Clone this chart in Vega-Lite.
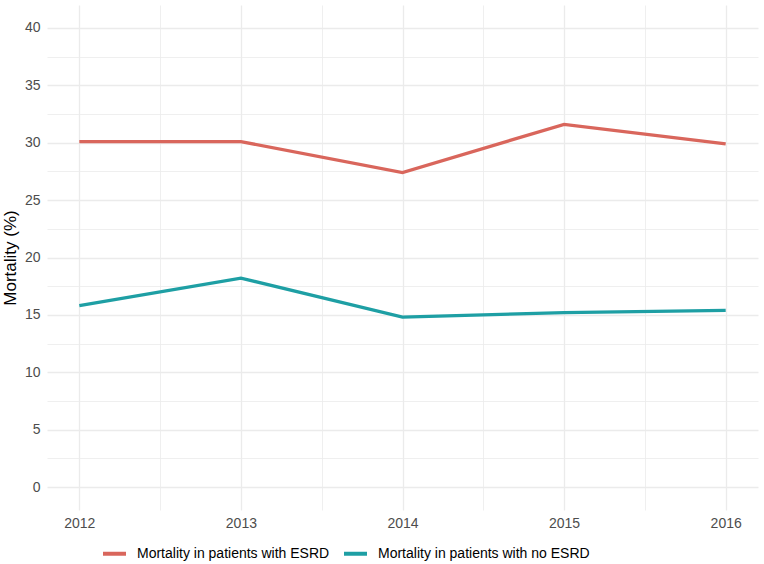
{
  "$schema": "https://vega.github.io/schema/vega-lite/v6.json",
  "width": 711,
  "height": 505,
  "autosize": {"type": "none"},
  "padding": {"left": 47, "top": 5, "right": 6, "bottom": 54},
  "background": "white",
  "config": {
    "view": {"stroke": null},
    "font": "Liberation Sans"
  },
  "data": {
    "values": [
      {"year": 2012, "series": "Mortality in patients with ESRD", "mortality": 30.1},
      {"year": 2013, "series": "Mortality in patients with ESRD", "mortality": 30.1},
      {"year": 2014, "series": "Mortality in patients with ESRD", "mortality": 27.4},
      {"year": 2015, "series": "Mortality in patients with ESRD", "mortality": 31.6},
      {"year": 2016, "series": "Mortality in patients with ESRD", "mortality": 29.9},
      {"year": 2012, "series": "Mortality in patients with no ESRD", "mortality": 15.8},
      {"year": 2013, "series": "Mortality in patients with no ESRD", "mortality": 18.2},
      {"year": 2014, "series": "Mortality in patients with no ESRD", "mortality": 14.8},
      {"year": 2015, "series": "Mortality in patients with no ESRD", "mortality": 15.2},
      {"year": 2016, "series": "Mortality in patients with no ESRD", "mortality": 15.4}
    ]
  },
  "mark": {"type": "line", "strokeWidth": 3.3},
  "encoding": {
    "x": {
      "field": "year",
      "type": "quantitative",
      "scale": {"domain": [2011.8, 2016.2], "nice": false, "zero": false},
      "axis": {
        "title": null,
        "values": [2012, 2012.5, 2013, 2013.5, 2014, 2014.5, 2015, 2015.5, 2016],
        "labelExpr": "datum.value % 1 === 0 ? format(datum.value, 'd') : ''",
        "domain": false,
        "ticks": false,
        "labelPadding": 6,
        "labelFontSize": 14,
        "labelColor": "#4d4d4d",
        "gridColor": "#ebebeb",
        "gridWidth": {"condition": {"test": "datum.value % 1 === 0", "value": 1.3}, "value": 0.8}
      }
    },
    "y": {
      "field": "mortality",
      "type": "quantitative",
      "scale": {"domain": [-2, 42], "nice": false, "zero": false},
      "axis": {
        "title": "Mortality (%)",
        "titleFontSize": 17,
        "titleFontWeight": "normal",
        "titleColor": "#000000",
        "titlePadding": 5,
        "values": [0, 2.5, 5, 7.5, 10, 12.5, 15, 17.5, 20, 22.5, 25, 27.5, 30, 32.5, 35, 37.5, 40],
        "labelExpr": "datum.value % 5 === 0 ? format(datum.value, 'd') : ''",
        "domain": false,
        "ticks": false,
        "labelPadding": 7,
        "labelFontSize": 14,
        "labelColor": "#4d4d4d",
        "gridColor": "#ebebeb",
        "gridWidth": {"condition": {"test": "datum.value % 5 === 0", "value": 1.3}, "value": 0.8}
      }
    },
    "color": {
      "field": "series",
      "type": "nominal",
      "scale": {
        "domain": ["Mortality in patients with ESRD", "Mortality in patients with no ESRD"],
        "range": ["#d9665c", "#1e9fa4"]
      },
      "legend": {
        "title": null,
        "orient": "none",
        "direction": "horizontal",
        "legendX": 54,
        "legendY": 535,
        "symbolType": "stroke",
        "symbolStrokeWidth": 4,
        "symbolSize": 529,
        "labelFontSize": 14,
        "labelLimit": 0,
        "labelColor": "#000000",
        "columnPadding": 6,
        "labelOffset": 9
      }
    }
  }
}
